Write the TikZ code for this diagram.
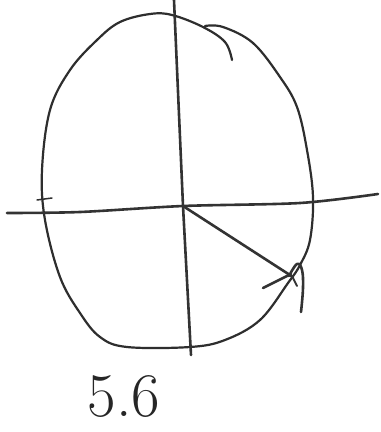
\documentclass[tikz,border=0pt]{standalone}
\begin{document}
\begin{tikzpicture}[x=1pt,y=-1pt,
  pen/.style={draw=black!80,line width=2.6pt,line cap=round,line join=round},
  thinpen/.style={draw=black!82,line width=2.2pt,line cap=round,line join=round},
  lbl/.style={font=\fontsize{62}{62}\selectfont,text=black!85,inner sep=0pt}]
\useasboundingbox (0,0) rectangle (381,432);
\fill[white] (0,0) rectangle (381,432);
% oval
\draw[thinpen] plot[smooth,tension=0.6] coordinates {
 (205,26) (223,27) (253,43) (280,77) (297,107) (307,150) (313,197)
 (310,240) (300,265) (288,283) (260,320) (225,340) (190,347) (127,347)
 (100,337) (80,313) (60,277) (45,220) (42,170) (50,110) (70,70) (97,40)
 (120,22) (150,14) (172,15) (203,27) (225,42) (232,60)};
% axes
\coordinate (o) at (183,206);
\coordinate (vt) at (174,0);
\coordinate (vb) at (191,355);
\coordinate (hl) at (7,213);
\coordinate (hr) at (378,194);
\draw[pen] (vt) -- (o) -- (vb);
\draw[pen] plot[smooth,tension=0.5] coordinates {(hl) (80,212) (o) (300,203) (hr)};
% tick on the left
\draw[thinpen,line width=1.5pt] (37,200) -- (52,198);
% radial line and arrowhead
\coordinate (tip) at (293,277);
\draw[pen] (o) -- (tip);
\draw[pen] (263,288) -- (291,274);
\draw[pen] plot[smooth,tension=0.7] coordinates {(289,276) (297,264) (302,270) (303,288) (301,312)};
\draw[pen,line width=1.8pt] (293,278) -- (297,286);
% label
\node[lbl] (lab) at (124,396) {5.6};
\end{tikzpicture}
\end{document}
